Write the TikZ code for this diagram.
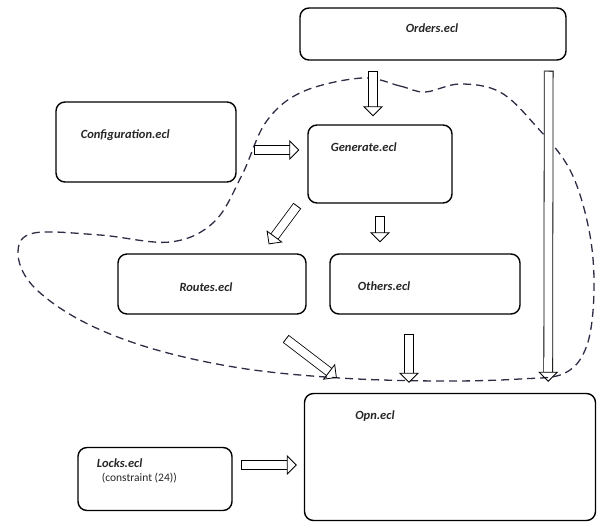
\documentclass[tikz,border=0pt]{standalone}
\usepackage{fontspec}
\setmainfont{Carlito}
\usetikzlibrary{positioning,shapes,arrows.meta,calc}
\definecolor{dashgray}{RGB}{45,45,70}
\tikzstyle{filebox} = [rectangle, rounded corners=9pt, draw=black, line width=1.4pt, inner sep=0pt]
\tikzstyle{fname} = [font=\fontsize{12.5}{14}\selectfont\bfseries\itshape, text=black!85]
\tikzstyle{connect} = [line width=0.8pt, double, double distance=8pt, {Bar[width=9.6pt,line width=0.8pt]}-{Triangle[open,width=20pt,length=10pt,line width=0.8pt]}]
\tikzstyle{border} = [dashed, dash pattern=on 8pt off 5pt, line width=1.3pt, draw=dashgray]

\begin{document}
\begin{tikzpicture}[x=1pt,y=-1pt]
			\useasboundingbox (0,0) rectangle (601,524);
			\node (orders) [filebox, minimum width=266pt, minimum height=52pt] at (433,34) {};
			\node (conf) [filebox, minimum width=180pt, minimum height=80pt] at (146,142) {};
			\node (gen) [filebox, minimum width=144pt, minimum height=78pt] at (380,164) {};
			\node (routes) [filebox, minimum width=188pt, minimum height=60pt] at (212,284) {};
			\node (others) [filebox, minimum width=190pt, minimum height=60pt] at (425,284) {};
			\node (opn) [filebox, minimum width=291pt, minimum height=127pt] at (450,457) {};
			\node (locks) [filebox, minimum width=154pt, minimum height=63pt] at (155,479) {};
			%-----------------------------------------------
			\node (ordersname) [fname] at (432,28) {Orders.ecl};
			\node (confname) [fname, anchor=west] at ($(conf.north west)+(22,34)$) {Configuration.ecl};
			\node (genname) [fname, anchor=west] at ($(gen.north west)+(20,23)$) {Generate.ecl};
			\node (routesname) [fname] at (206,287) {Routes.ecl};
			\node (othersname) [fname, anchor=west] at ($(others.north west)+(25,33)$) {Others.ecl};
			\node (opnname) [fname, anchor=west] at ($(opn.north west)+(48,23)$) {Opn.ecl};
			\node (locksname) [fname, anchor=west] at ($(locks.north west)+(16,16)$) {Locks.ecl};
			\node (lockstext) [font=\fontsize{11.5}{13}\selectfont, text=black!85, anchor=west, below right=-1pt and 5pt of locksname.south west] {(constraint (24))};
			%-----------------------------------------------
			\draw [border] plot [smooth cycle, tension=0.6] coordinates {(362,78) (400,86) (425,92) (460,84) (500,92) (535,125) (570,170) (589,230) (594,290) (587,345) (565,373) (520,379) (440,381) (340,378) (240,368) (150,348) (80,320) (32,285) (18,252) (34,233) (100,235) (170,242) (214,222) (242,175) (266,122) (302,92)};
			%-----------------------------------------------
			\draw [connect] ([xshift=-60pt,yshift=-10pt]orders.south) -- ([xshift=-7pt,yshift=8pt]gen.north);
			\draw [connect] ([xshift=17pt,yshift=-8pt]conf.east) -- ([xshift=-8pt,yshift=-8pt]gen.west |- conf.east);
			\draw [connect] ($(gen.south west)+(-10,2)$) -- ($(routes.north east)+(-38,-9)$);
			\draw [connect] ([yshift=-12pt]gen.south) -- ([xshift=-45pt,yshift=11pt]others.north);
			\draw [connect] ($(routes.south east)+(-21,24)$) -- ($(opn.north west)+(33,-15)$);
			\draw [connect] ($(others.south)+(-16,19)$) -- ($(opn.north)+(-41,-10)$);
			\draw [connect] ($(orders.south east)+(-18,10)$) -- ($(opn.north east)+(-48,-11)$);
			\draw [connect] ($(locks.east)+(8,-14)$) -- ($(opn.west)+(-7,8)$);
			\end{tikzpicture}
\end{document}
